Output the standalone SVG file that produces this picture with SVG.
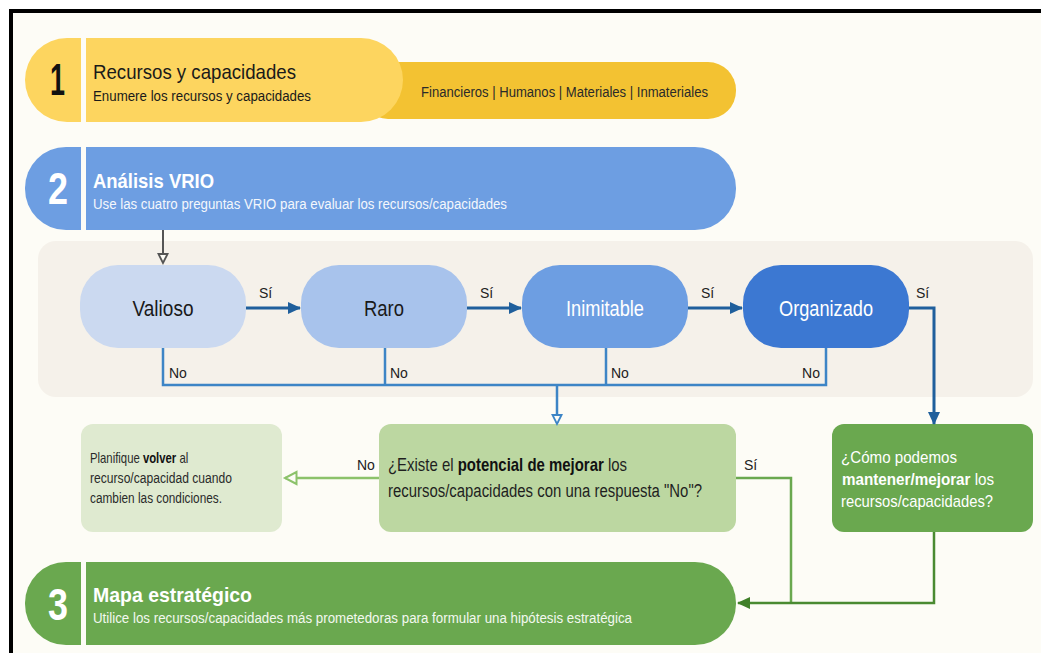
<svg xmlns="http://www.w3.org/2000/svg" width="1041" height="653" viewBox="0 0 1041 653">
  <style>
    text { font-family: "Liberation Sans", Arial, sans-serif; }
    .num { font-size: 44px; font-weight: bold; }
    .ttl { font-size: 21px; }
    .sub { font-size: 14px; }
    .node { font-size: 22px; text-anchor: middle; }
    .lbl { font-size: 14px; fill: #222; }
    .b { font-weight: bold; }
    .blue { fill: none; stroke: #1f5f9c; stroke-width: 3; }
    .nol { fill: none; stroke: #3d85c6; stroke-width: 2.5; }
    .lg { fill: none; stroke: #8cc26a; stroke-width: 2.5; }
    .dg { fill: none; stroke: #4a8a31; stroke-width: 2.5; }
    .mg { fill: none; stroke: #6aa84f; stroke-width: 2.5; }
  </style>
  <defs>
    <marker id="hollowGray" markerWidth="12" markerHeight="12" refX="9" refY="6" orient="auto" markerUnits="userSpaceOnUse">
      <path d="M1,1.5 L10,6 L1,10.5 Z" fill="#fdfcf6" stroke="#555" stroke-width="1.8"/>
    </marker>
    <marker id="hollowBlue" markerWidth="12" markerHeight="12" refX="9" refY="6" orient="auto" markerUnits="userSpaceOnUse">
      <path d="M1,1.5 L10,6 L1,10.5 Z" fill="#fdfcf6" stroke="#3d85c6" stroke-width="1.8"/>
    </marker>
    <marker id="solidBlue" markerWidth="14" markerHeight="14" refX="12" refY="7" orient="auto" markerUnits="userSpaceOnUse">
      <path d="M0,1 L13,7 L0,13 Z" fill="#1f5f9c"/>
    </marker>
    <marker id="hollowGreen" markerWidth="16" markerHeight="16" refX="13" refY="8" orient="auto" markerUnits="userSpaceOnUse">
      <path d="M1.5,2 L13,8 L1.5,14 Z" fill="#fdfcf6" stroke="#8cc26a" stroke-width="2"/>
    </marker>
    <marker id="solidGreen" markerWidth="14" markerHeight="14" refX="12" refY="7" orient="auto" markerUnits="userSpaceOnUse">
      <path d="M0,1 L13,7 L0,13 Z" fill="#3f7f28"/>
    </marker>
  </defs>

  <!-- page background and frame -->
  <rect x="0" y="0" width="1041" height="653" fill="#ffffff"/>
  <rect x="11" y="11" width="1040" height="660" fill="#fdfcf6" stroke="#000" stroke-width="4"/>

  <!-- step 1 -->
  <g id="step1">
    <rect x="360" y="62" width="376" height="57" rx="28" fill="#f3c232"/>
    <text x="421" y="97" class="sub" fill="#2a2a2a" textLength="287" lengthAdjust="spacingAndGlyphs">Financieros | Humanos | Materiales | Inmateriales</text>
    <rect x="25" y="38" width="378" height="84" rx="42" fill="#fdd55f"/>
    <rect x="81" y="38" width="5" height="84" fill="#fdfcf6"/>
    <text x="50" y="95" class="num" fill="#111" textLength="15" lengthAdjust="spacingAndGlyphs">1</text>
    <text x="93" y="79" class="ttl" fill="#1a1a1a" textLength="203" lengthAdjust="spacingAndGlyphs">Recursos y capacidades</text>
    <text x="93" y="101" class="sub" fill="#1a1a1a" textLength="218" lengthAdjust="spacingAndGlyphs">Enumere los recursos y capacidades</text>
  </g>

  <!-- step 2 -->
  <g id="step2">
    <rect x="25" y="147" width="711" height="83" rx="41" fill="#6d9ee2"/>
    <rect x="81" y="147" width="5" height="83" fill="#fdfcf6"/>
    <text x="48" y="204" class="num" fill="#fff" textLength="20" lengthAdjust="spacingAndGlyphs">2</text>
    <text x="93" y="188" class="ttl b" fill="#fff" textLength="121" lengthAdjust="spacingAndGlyphs">Análisis VRIO</text>
    <text x="93" y="209" class="sub" fill="#f4f7fc" textLength="414" lengthAdjust="spacingAndGlyphs">Use las cuatro preguntas VRIO para evaluar los recursos/capacidades</text>
  </g>

  <!-- VRIO panel -->
  <g id="vrio-panel">
    <rect x="38" y="241" width="995" height="156" rx="18" fill="#f5f1ea"/>
  </g>

  <g id="valioso">
    <rect x="80" y="265" width="166" height="83" rx="38" fill="#cbd9f0"/>
    <text x="163" y="316" class="node" fill="#1a1a1a" textLength="61" lengthAdjust="spacingAndGlyphs">Valioso</text>
  </g>
  <g id="raro">
    <rect x="301" y="265" width="166" height="83" rx="38" fill="#a8c3ec"/>
    <text x="384" y="316" class="node" fill="#1a1a1a" textLength="40" lengthAdjust="spacingAndGlyphs">Raro</text>
  </g>
  <g id="inimitable">
    <rect x="522" y="265" width="166" height="83" rx="38" fill="#6d9ee2"/>
    <text x="605" y="316" class="node" fill="#fff" textLength="78" lengthAdjust="spacingAndGlyphs">Inimitable</text>
  </g>
  <g id="organizado">
    <rect x="743" y="265" width="166" height="83" rx="38" fill="#3c78d2"/>
    <text x="826" y="316" class="node" fill="#fff" textLength="94" lengthAdjust="spacingAndGlyphs">Organizado</text>
  </g>

  <!-- lower decision boxes -->
  <g id="planifique">
    <rect x="81" y="424" width="201" height="108" rx="12" fill="#dfead0"/>
    <text transform="translate(90,463) scale(0.81,1)" font-size="14" fill="#2a2a2a">Planifique <tspan class="b" fill="#111">volver</tspan> al</text>
    <text x="90" y="483" font-size="14" fill="#2a2a2a" textLength="142" lengthAdjust="spacingAndGlyphs">recurso/capacidad cuando</text>
    <text x="90" y="503" font-size="14" fill="#2a2a2a" textLength="132" lengthAdjust="spacingAndGlyphs">cambien las condiciones.</text>
  </g>
  <g id="potencial">
    <rect x="379" y="424" width="357" height="108" rx="12" fill="#bcd7a1"/>
    <text transform="translate(388,471) scale(0.83,1)" font-size="18" fill="#1f1f1f">¿Existe el <tspan class="b" fill="#111">potencial de mejorar</tspan> los</text>
    <text x="388" y="497" font-size="18" fill="#1f1f1f" textLength="314" lengthAdjust="spacingAndGlyphs">recursos/capacidades con una respuesta "No"?</text>
  </g>
  <g id="mantener">
    <rect x="832" y="424" width="201" height="108" rx="12" fill="#6aa84f"/>
    <text x="841" y="463" font-size="17" fill="#fff" textLength="116" lengthAdjust="spacingAndGlyphs">¿Cómo podemos</text>
    <text transform="translate(842,485) scale(0.895,1)" font-size="17" fill="#fff"><tspan class="b">mantener/mejorar</tspan> los</text>
    <text x="841" y="507" font-size="17" fill="#fff" textLength="152" lengthAdjust="spacingAndGlyphs">recursos/capacidades?</text>
  </g>

  <!-- step 3 -->
  <g id="step3">
    <rect x="25" y="562" width="711" height="83" rx="41" fill="#6aa84f"/>
    <rect x="81" y="562" width="5" height="83" fill="#fdfcf6"/>
    <text x="48" y="620" class="num" fill="#fff" textLength="20" lengthAdjust="spacingAndGlyphs">3</text>
    <text x="93" y="602" class="ttl b" fill="#fff" textLength="159" lengthAdjust="spacingAndGlyphs">Mapa estratégico</text>
    <text x="93" y="623" class="sub" fill="#f3f8ef" textLength="539" lengthAdjust="spacingAndGlyphs">Utilice los recursos/capacidades más prometedoras para formular una hipótesis estratégica</text>
  </g>

  <!-- connectors -->
  <g id="connectors">
    <path d="M163,230 V262" fill="none" stroke="#555" stroke-width="2" marker-end="url(#hollowGray)"/>

    <path class="blue" d="M246,308 H300" marker-end="url(#solidBlue)"/>
    <path class="blue" d="M467,308 H521" marker-end="url(#solidBlue)"/>
    <path class="blue" d="M688,308 H742" marker-end="url(#solidBlue)"/>
    <path class="blue" d="M909,308 H934 V424" marker-end="url(#solidBlue)"/>

    <path class="nol" d="M163,348 V385 H826 V348"/>
    <path class="nol" d="M385,348 V385"/>
    <path class="nol" d="M606,348 V385"/>
    <path class="nol" d="M557,385 V423" marker-end="url(#hollowBlue)"/>

    <path class="lg" d="M379,478 H285" marker-end="url(#hollowGreen)"/>
    <path class="mg" d="M736,478 H791 V603"/>
    <path class="dg" d="M934,532 V603 H738" marker-end="url(#solidGreen)"/>

    <text x="259" y="298" class="lbl">Sí</text>
    <text x="480" y="298" class="lbl">Sí</text>
    <text x="701" y="298" class="lbl">Sí</text>
    <text x="916" y="298" class="lbl">Sí</text>
    <text x="169" y="378" class="lbl">No</text>
    <text x="390" y="378" class="lbl">No</text>
    <text x="611" y="378" class="lbl">No</text>
    <text x="820" y="378" class="lbl" text-anchor="end">No</text>
    <text x="357" y="470" class="lbl">No</text>
    <text x="744" y="470" class="lbl">Sí</text>
  </g>
</svg>
